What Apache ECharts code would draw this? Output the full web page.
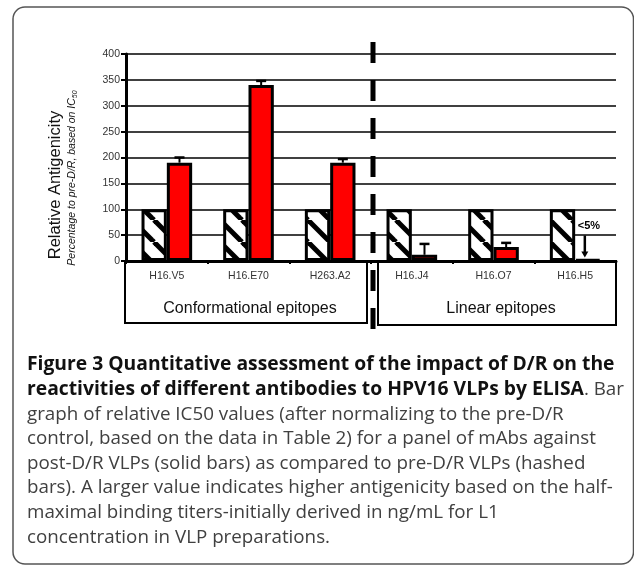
<!DOCTYPE html>
<html>
<head>
<meta charset="utf-8">
<script src="https://cdn.jsdelivr.net/npm/echarts@6/dist/echarts.min.js"></script>
<style>
html, body { margin: 0; padding: 0; background: #fff; }
#c { width: 634px; height: 566px; }
</style>
</head>
<body>
<div id="c"></div>
<script>
// Antibody panel and relative antigenicity (% of pre-D/R, IC50 based)
const categories = ['H16.V5', 'H16.E70', 'H263.A2', 'H16.J4', 'H16.O7', 'H16.H5'];
const preDR = [100, 100, 100, 100, 100, 100];
const postDR = [190, 340, 190, 12, 27, 3];
const postDRUpper = [200, 348, 197, 33, 35, null];
const notes = ['', '', '', '', '', '<5%'];
const groupNames = ['Conformational epitopes', 'Linear epitopes'];
const groupStarts = [0, 3];
const groupEnds = [2, 5];
const yMin = 0, yMax = 400, yStep = 50;

const captionLines = [
  [['b', 'Figure 3 Quantitative assessment of the impact of D/R on the']],
  [['b', 'reactivities of different antibodies to HPV16 VLPs by ELISA'], ['n', '. Bar']],
  [['n', 'graph of relative IC50 values (after normalizing to the pre-D/R']],
  [['n', 'control, based on the data in Table 2) for a panel of mAbs against']],
  [['n', 'post-D/R VLPs (solid bars) as compared to pre-D/R VLPs (hashed']],
  [['n', 'bars). A larger value indicates higher antigenicity based on the half-']],
  [['n', 'maximal binding titers-initially derived in ng/mL for L1']],
  [['n', 'concentration in VLP preparations.']]
];

const GAP = 0.38; // bar category gap fraction

function hatchPattern() {
  const s = 22;
  const c = document.createElement('canvas');
  c.width = c.height = s;
  const g = c.getContext('2d');
  g.fillStyle = '#fff';
  g.fillRect(0, 0, s, s);
  g.strokeStyle = '#000';
  g.lineWidth = 5;
  for (const o of [-s, 0, s]) {
    g.beginPath();
    g.moveTo(o, 0);
    g.lineTo(o + s, s);
    g.stroke();
  }
  return c;
}

const chart = echarts.init(document.getElementById('c'), null, { renderer: 'canvas' });

function postBarX(api, idx, val) {
  const p = api.coord([idx, val]);
  const catW = api.size([1, 0])[0];
  const bw = catW * (1 - GAP) / 2;
  return [p[0] + bw / 2, p[1]];
}

const option = {
  animation: false,
  backgroundColor: '#fff',
  grid: { left: 126, right: 18, top: 54, bottom: 305, show: false },
  xAxis: {
    type: 'category',
    data: categories,
    axisLine: { lineStyle: { color: '#000', width: 3 } },
    axisTick: { show: true, length: 3, lineStyle: { color: '#000', width: 2 } },
    axisLabel: { color: '#333', fontSize: 10.5, fontFamily: 'Liberation Sans, Arial', margin: 10 },
    splitLine: { show: false }
  },
  yAxis: {
    type: 'value',
    min: yMin, max: yMax, interval: yStep,
    axisLine: { show: true, lineStyle: { color: '#000', width: 3 } },
    axisTick: { show: true, length: 5, lineStyle: { color: '#000', width: 2 } },
    axisLabel: { color: '#333', fontSize: 10.5, fontFamily: 'Liberation Sans, Arial', margin: 6 },
    splitLine: { lineStyle: { color: '#000', width: 1.5 } }
  },
  series: [
    {
      name: 'pre-D/R',
      type: 'bar',
      data: preDR,
      barGap: '0%',
      barCategoryGap: (GAP * 100) + '%',
      itemStyle: { color: { image: hatchPattern(), repeat: 'repeat' }, borderColor: '#000', borderWidth: 3 },
      z: 3
    },
    {
      name: 'post-D/R',
      type: 'bar',
      data: postDR,
      itemStyle: { color: '#ff0000', borderColor: '#000', borderWidth: 3 },
      z: 3
    },
    {
      name: 'error',
      type: 'custom',
      data: postDR.map((v, i) => [i, v, postDRUpper[i]]),
      z: 2,
      renderItem: function (params, api) {
        const i = api.value(0);
        const u = api.value(2);
        if (u == null || isNaN(u)) return null;
        const b = postBarX(api, i, api.value(1));
        const t = postBarX(api, i, u);
        return {
          type: 'group',
          children: [
            { type: 'line', shape: { x1: b[0], y1: b[1], x2: t[0], y2: t[1] }, style: { stroke: '#000', lineWidth: 2 } },
            { type: 'line', shape: { x1: t[0] - 5, y1: t[1], x2: t[0] + 5, y2: t[1] }, style: { stroke: '#000', lineWidth: 2.5 } }
          ]
        };
      }
    },
    {
      name: 'note',
      type: 'custom',
      data: postDR.map((v, i) => [i, v]),
      z: 5,
      renderItem: function (params, api) {
        const i = api.value(0);
        const txt = notes[i];
        if (!txt) return null;
        const b = postBarX(api, i, api.value(1));
        const x = b[0] - 3;
        return {
          type: 'group',
          children: [
            { type: 'text', style: { text: txt, x: x - 7, y: b[1] - 33, textAlign: 'left', textVerticalAlign: 'middle', font: 'bold 11px "Liberation Sans", Arial', fill: '#000' } },
            { type: 'line', shape: { x1: x, y1: b[1] - 24, x2: x, y2: b[1] - 7 }, style: { stroke: '#000', lineWidth: 2.5 } },
            { type: 'polygon', shape: { points: [[x - 3.5, b[1] - 8], [x + 3.5, b[1] - 8], [x, b[1] - 2]] }, style: { fill: '#000' } }
          ]
        };
      }
    }
  ]
};

chart.setOption(option);

// Decorations computed from the axis scales
const axisY = chart.convertToPixel({ yAxisIndex: 0 }, 0);
const c0 = chart.convertToPixel({ xAxisIndex: 0 }, 0);
const c1 = chart.convertToPixel({ xAxisIndex: 0 }, 1);
const catW = c1 - c0;
const leftEdge = (i) => chart.convertToPixel({ xAxisIndex: 0 }, i) - catW / 2;
const rightEdge = (i) => chart.convertToPixel({ xAxisIndex: 0 }, i) + catW / 2;
const splitX = rightEdge(groupEnds[0]) + 2;

const graphics = [];

// outer panel frame
graphics.push({
  type: 'rect', shape: { x: 13, y: 7, width: 620.5, height: 557, r: 12 },
  style: { fill: null, stroke: '#555', lineWidth: 1.5 }, z: 0
});

// group boxes below the axis
groupNames.forEach((name, g) => {
  const x1 = g === 0 ? leftEdge(groupStarts[g]) - 1 : splitX + 5;
  const x2 = g === 0 ? splitX - 6 : rightEdge(groupEnds[g]);
  const h = g === 0 ? 62 : 64;
  graphics.push({
    type: 'rect', shape: { x: x1, y: axisY, width: x2 - x1, height: h },
    style: { fill: null, stroke: '#000', lineWidth: 2 }, z: 1
  });
  graphics.push({
    type: 'text',
    style: { text: name, x: (x1 + x2) / 2 + 4, y: axisY + 48, textAlign: 'center', textVerticalAlign: 'middle', font: '16px "Liberation Sans", Arial', fill: '#111' },
    z: 2
  });
});

// dashed separator between epitope groups
graphics.push({
  type: 'line', shape: { x1: splitX, y1: 42, x2: splitX, y2: 331 },
  style: { stroke: '#000', lineWidth: 5, lineDash: [21, 17] }, z: 10
});

// axis titles
graphics.push({
  type: 'text', x: 55, y: 185, rotation: Math.PI / 2,
  style: { text: 'Relative Antigenicity', x: 0, y: 0, textAlign: 'center', textVerticalAlign: 'middle', font: '16.5px "Liberation Sans", Arial', fill: '#111' }
});
graphics.push({
  type: 'text', x: 72, y: 178, rotation: Math.PI / 2,
  style: {
    text: '{i|Percentage to pre-D/R, based on IC}{s|50}',
    x: 0, y: 0, textAlign: 'center', textVerticalAlign: 'middle',
    rich: {
      i: { font: 'italic 10.5px "Liberation Sans", Arial', fill: '#111' },
      s: { font: 'italic 7px "Liberation Sans", Arial', fill: '#111', padding: [6, 0, 0, 0] }
    }
  }
});

// caption
captionLines.forEach((parts, k) => {
  graphics.push({
    type: 'text',
    style: {
      text: parts.map(p => '{' + p[0] + '|' + p[1] + '}').join(''),
      x: 27, y: 365 + k * 24.6,
      textAlign: 'left', textVerticalAlign: 'middle',
      rich: {
        b: { font: 'bold 19.3px "Open Sans"', fill: '#111' },
        n: { font: '18.8px "Open Sans"', fill: '#404040' }
      }
    }
  });
});

chart.setOption({ graphic: graphics });
</script>
</body>
</html>
